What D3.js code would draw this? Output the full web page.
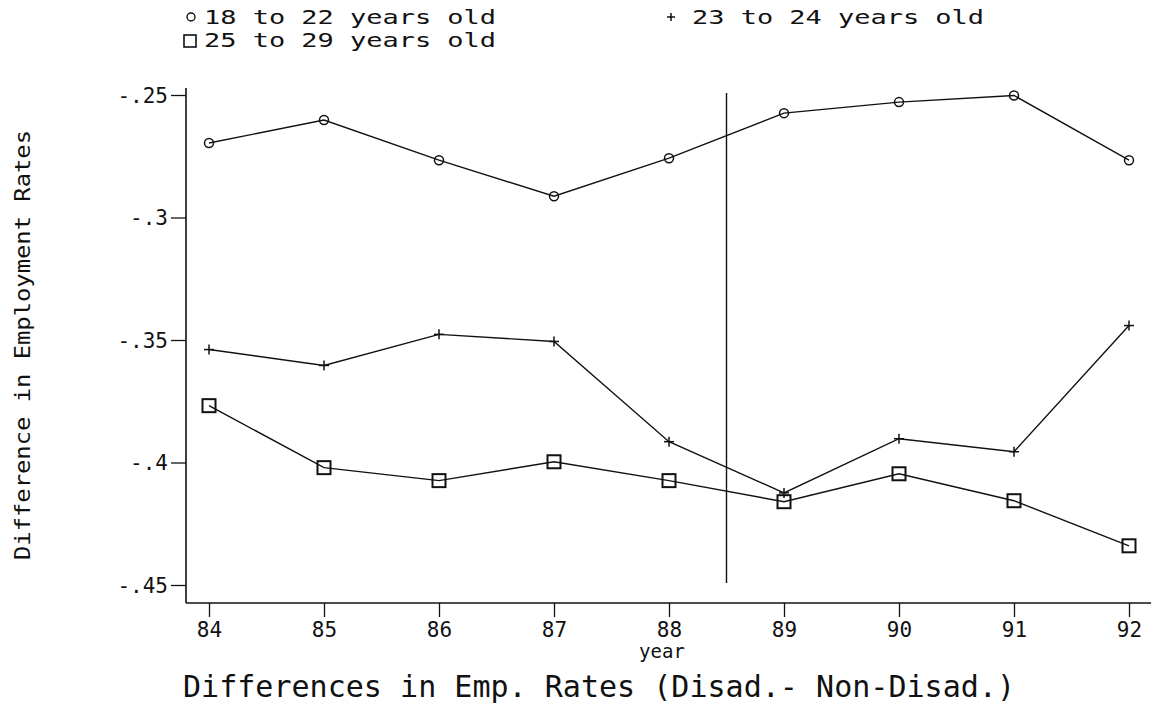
<!DOCTYPE html>
<html><head><meta charset="utf-8">
<script src="https://cdn.jsdelivr.net/npm/d3@7"></script>
<style>
html,body{margin:0;padding:0;background:#fff;}
text{font-family:"DejaVu Sans Mono",monospace;fill:#111;}
</style></head>
<body>
<svg id="c" width="1151" height="704"></svg>
<script>
const years = [84, 85, 86, 87, 88, 89, 90, 91, 92];
const age18to22 = [-0.2696, -0.2602, -0.2766, -0.2913, -0.2758, -0.2574, -0.2529, -0.2502, -0.2766];
const age23to24 = [-0.3539, -0.3604, -0.3477, -0.3506, -0.3915, -0.4124, -0.3903, -0.3956, -0.3441];
const age25to29 = [-0.3768, -0.4021, -0.4074, -0.3997, -0.4074, -0.4160, -0.4046, -0.4156, -0.4340];
const yTicks = [-0.25, -0.30, -0.35, -0.40, -0.45];
const yTickLabels = ["-.25", "-.3", "-.35", "-.4", "-.45"];
const refYear = [88.5];
const legendLabels = ["18 to 22 years old", "23 to 24 years old", "25 to 29 years old"];

const svg = d3.select("#c");
const x = d3.scaleLinear().domain([84, 92]).range([209, 1129]);
const y = d3.scaleLinear().domain([-0.45, -0.25]).range([585, 95]);

const axisX0 = 186, axisY0 = 603;

// y axis
const yAxis = d3.axisLeft(y).tickValues(yTicks).tickFormat((d,i)=>yTickLabels[i]).tickSize(15).tickPadding(3);
const gy = svg.append("g").attr("transform", `translate(${axisX0},0)`).call(yAxis);
gy.select(".domain").remove();
gy.append("line").attr("x1",0).attr("x2",0).attr("y1",88).attr("y2",axisY0).attr("stroke","#111").attr("stroke-width",1.6);
gy.selectAll(".tick line").attr("stroke","#111").attr("stroke-width",1.3);
gy.selectAll(".tick text").style("font-size","21px").attr("fill","#111").attr("dy","0.35em");

// x axis
const xAxis = d3.axisBottom(x).tickValues(years).tickFormat(d3.format("d")).tickSize(14).tickPadding(5);
const gx = svg.append("g").attr("transform", `translate(0,${axisY0})`).call(xAxis);
gx.select(".domain").remove();
gx.append("line").attr("x1",axisX0).attr("x2",1151).attr("y1",0).attr("y2",0).attr("stroke","#111").attr("stroke-width",1.6);
gx.selectAll(".tick line").attr("stroke","#111").attr("stroke-width",1.3);
gx.selectAll(".tick text").style("font-size","21px").attr("fill","#111");

// reference line
svg.selectAll("line.ref").data(refYear).enter().append("line")
  .attr("class","ref")
  .attr("x1", d=>x(d)).attr("x2", d=>x(d))
  .attr("y1", y(-0.2492)).attr("y2", y(-0.4492))
  .attr("stroke","#111").attr("stroke-width",1.4);

const line = d3.line().x((d,i)=>x(years[i])).y(d=>y(d));
[age18to22, age23to24, age25to29].forEach(s=>{
  svg.append("path").datum(s).attr("d", line).attr("fill","none").attr("stroke","#111").attr("stroke-width",1.4);
});

// markers
svg.selectAll("circle.m1").data(age18to22).enter().append("circle")
  .attr("cx",(d,i)=>x(years[i])).attr("cy",d=>y(d)).attr("r",4.5)
  .attr("fill","none").attr("stroke","#111").attr("stroke-width",1.5);
const plus = (g, cx, cy, s) => {
  g.append("line").attr("x1",cx-s).attr("x2",cx+s).attr("y1",cy).attr("y2",cy).attr("stroke","#111").attr("stroke-width",1.5);
  g.append("line").attr("x1",cx).attr("x2",cx).attr("y1",cy-s).attr("y2",cy+s).attr("stroke","#111").attr("stroke-width",1.5);
};
const gp = svg.append("g");
age23to24.forEach((d,i)=>plus(gp, x(years[i]), y(d), 5));
svg.selectAll("rect.m3").data(age25to29).enter().append("rect")
  .attr("x",(d,i)=>x(years[i])-6.5).attr("y",d=>y(d)-6.5).attr("width",13).attr("height",13)
  .attr("fill","none").attr("stroke","#111").attr("stroke-width",2);

// legend
const lg = svg.append("g");
lg.append("circle").attr("cx",191).attr("cy",17).attr("r",4).attr("fill","none").attr("stroke","#111").attr("stroke-width",1.4);
lg.append("text").attr("x",204).attr("y",24).style("font-size","20px").attr("textLength",292).attr("lengthAdjust","spacingAndGlyphs").text(legendLabels[0]);
plus(lg, 671, 17, 4);
lg.append("text").attr("x",692).attr("y",24).style("font-size","20px").attr("textLength",292).attr("lengthAdjust","spacingAndGlyphs").text(legendLabels[1]);
lg.append("rect").attr("x",184).attr("y",35).attr("width",12).attr("height",12).attr("fill","none").attr("stroke","#111").attr("stroke-width",1.6);
lg.append("text").attr("x",204).attr("y",47).style("font-size","20px").attr("textLength",292).attr("lengthAdjust","spacingAndGlyphs").text(legendLabels[2]);

// axis titles
svg.append("text").attr("x",662).attr("y",658).attr("text-anchor","middle").style("font-size","19px").text("year");
svg.append("text").attr("transform","translate(30,345) rotate(-90)").attr("text-anchor","middle")
  .style("font-size","21px").attr("textLength",430).attr("lengthAdjust","spacingAndGlyphs").text("Difference in Employment Rates");
svg.append("text").attr("x",183).attr("y",697).style("font-size","31px").attr("textLength",832).attr("lengthAdjust","spacingAndGlyphs")
  .text("Differences in Emp. Rates (Disad.- Non-Disad.)");
</script>
</body></html>
